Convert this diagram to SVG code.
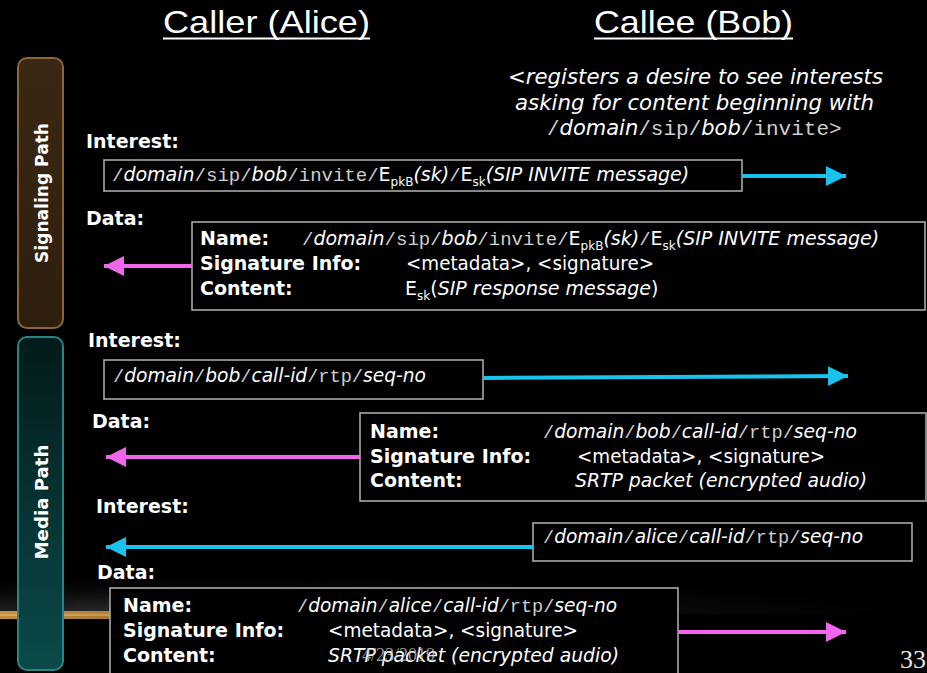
<svg xmlns="http://www.w3.org/2000/svg" width="927" height="673" viewBox="0 0 927 673">
<defs>
<style>
.lbl{font-family:"DejaVu Sans",Verdana,sans-serif;font-weight:bold;font-size:19px;fill:#fff}
.v{font-family:"DejaVu Sans",Verdana,sans-serif;font-size:19px;fill:#fff}
.it{font-style:italic}
.mo{font-family:"Liberation Mono","Courier New",monospace;font-style:normal;fill:#cfcfcf}
.sub{font-size:12px}
.box{fill:#000;stroke:#a8a8a8;stroke-width:1.6}
.title{font-family:"Liberation Sans",Tahoma,sans-serif;font-size:32px;fill:#fff}
.side{font-family:"DejaVu Sans",Verdana,sans-serif;font-weight:bold;font-size:17.5px;fill:#fff}
.cy{stroke:#19c3ee;stroke-width:4;fill:none}
.mg{stroke:#f066ec;stroke-width:4;fill:none}
</style>
<marker id="ac" markerUnits="userSpaceOnUse" markerWidth="22" markerHeight="22" refX="20" refY="10" orient="auto" viewBox="0 0 22 20"><polygon points="0,0 20,10 0,20" fill="#19c3ee"/></marker>
<marker id="am" markerUnits="userSpaceOnUse" markerWidth="22" markerHeight="22" refX="20" refY="10" orient="auto" viewBox="0 0 22 20"><polygon points="0,0 20,10 0,20" fill="#f066ec"/></marker>
<linearGradient id="brown" x1="0" y1="0" x2="0" y2="1"><stop offset="0" stop-color="#3a2814"/><stop offset="1" stop-color="#2e1e0e"/></linearGradient>
<linearGradient id="teal" x1="0" y1="0" x2="0" y2="1"><stop offset="0" stop-color="#031a1a"/><stop offset="1" stop-color="#0b4a4a"/></linearGradient>
<radialGradient id="haze" cx="0.25" cy="1" r="0.8" gradientTransform="translate(0.25 1) scale(1 0.35) translate(-0.25 -1)"><stop offset="0" stop-color="#3c3c3c"/><stop offset="1" stop-color="#000" stop-opacity="0"/></radialGradient>
<linearGradient id="gold" x1="0" y1="0" x2="1" y2="0"><stop offset="0" stop-color="#e0a850"/><stop offset="0.35" stop-color="#c08a40" stop-opacity="0.8"/><stop offset="0.8" stop-color="#604020" stop-opacity="0"/></linearGradient>
</defs>
<rect width="927" height="673" fill="#000"/>
<rect x="0" y="470" width="927" height="144" fill="url(#haze)"/>
<rect x="0" y="611" width="760" height="8" fill="url(#gold)" opacity="0.85"/>
<rect x="0" y="614" width="700" height="2" fill="url(#gold)"/>

<g id="titles">
<text class="title" x="163" y="33" textLength="207" lengthAdjust="spacingAndGlyphs">Caller (Alice)</text>
<line x1="163" y1="38.5" x2="370" y2="38.5" stroke="#fff" stroke-width="2"/>
<text class="title" x="594" y="33" textLength="199" lengthAdjust="spacingAndGlyphs">Callee (Bob)</text>
<line x1="594" y1="38.5" x2="793" y2="38.5" stroke="#fff" stroke-width="2"/>
</g>

<g id="signaling-path">
<rect x="18" y="58" width="45" height="270" rx="9" fill="url(#brown)" stroke="#8a6638" stroke-width="2"/>
<text class="side" transform="translate(48 193) rotate(-90)" text-anchor="middle" textLength="140" lengthAdjust="spacingAndGlyphs">Signaling Path</text>
</g>
<g id="media-path">
<rect x="18" y="337" width="45" height="333" rx="9" fill="url(#teal)" stroke="#2a8484" stroke-width="2"/>
<text class="side" transform="translate(48 502) rotate(-90)" text-anchor="middle" textLength="115" lengthAdjust="spacingAndGlyphs">Media Path</text>
</g>

<g id="registration-note">
<text class="v it" style="font-size:21px" x="508" y="84" textLength="375" lengthAdjust="spacingAndGlyphs">&lt;registers a desire to see interests</text>
<text class="v it" style="font-size:21px" x="515" y="110" textLength="359" lengthAdjust="spacingAndGlyphs">asking for content beginning with</text>
<text class="v" style="font-size:21px" x="547" y="135"><tspan class="mo">/</tspan><tspan class="it">domain</tspan><tspan class="mo">/sip/</tspan><tspan class="it">bob</tspan><tspan class="mo">/invite&gt;</tspan></text>
</g>

<g id="interest-1">
<text class="lbl" x="86" y="148">Interest:</text>
<rect class="box" x="104" y="160" width="638" height="31"/>
<text class="v" x="112" y="181"><tspan class="mo">/</tspan><tspan class="it">domain</tspan><tspan class="mo">/sip/</tspan><tspan class="it">bob</tspan><tspan class="mo">/invite/</tspan>E<tspan class="sub" dy="5">pkB</tspan><tspan class="it" dy="-5">(sk)</tspan><tspan class="mo">/</tspan>E<tspan class="sub" dy="5">sk</tspan><tspan class="it" dy="-5">(SIP INVITE message)</tspan></text>
</g>

<g id="data-1">
<text class="lbl" x="86" y="225">Data:</text>
<rect class="box" x="192" y="222" width="733" height="88"/>
<text class="lbl" x="200" y="245">Name:</text>
<text class="lbl" x="200" y="270">Signature Info:</text>
<text class="lbl" x="200" y="295">Content:</text>
<text class="v" x="302" y="245"><tspan class="mo">/</tspan><tspan class="it">domain</tspan><tspan class="mo">/sip/</tspan><tspan class="it">bob</tspan><tspan class="mo">/invite/</tspan>E<tspan class="sub" dy="5">pkB</tspan><tspan class="it" dy="-5">(sk)</tspan><tspan class="mo">/</tspan>E<tspan class="sub" dy="5">sk</tspan><tspan class="it" dy="-5">(SIP INVITE message)</tspan></text>
<text class="v" x="406" y="270" textLength="248" lengthAdjust="spacingAndGlyphs">&lt;metadata&gt;, &lt;signature&gt;</text>
<text class="v" x="405" y="295">E<tspan class="sub" dy="5">sk</tspan><tspan dy="-5">(</tspan><tspan class="it">SIP response message</tspan>)</text>
</g>

<g id="interest-2">
<text class="lbl" x="88" y="347">Interest:</text>
<rect class="box" x="104" y="360" width="379" height="39"/>
<text class="v" x="113" y="382" textLength="313" lengthAdjust="spacingAndGlyphs"><tspan class="mo">/</tspan><tspan class="it">domain</tspan><tspan class="mo">/</tspan><tspan class="it">bob</tspan><tspan class="mo">/</tspan><tspan class="it">call-id</tspan><tspan class="mo">/rtp/</tspan><tspan class="it">seq-no</tspan></text>
</g>

<g id="data-2">
<text class="lbl" x="92" y="428">Data:</text>
<rect class="box" x="360" y="413" width="566" height="88"/>
<text class="lbl" x="370" y="438">Name:</text>
<text class="lbl" x="370" y="463">Signature Info:</text>
<text class="lbl" x="370" y="487">Content:</text>
<text class="v" x="543" y="438" textLength="314" lengthAdjust="spacingAndGlyphs"><tspan class="mo">/</tspan><tspan class="it">domain</tspan><tspan class="mo">/</tspan><tspan class="it">bob</tspan><tspan class="mo">/</tspan><tspan class="it">call-id</tspan><tspan class="mo">/rtp/</tspan><tspan class="it">seq-no</tspan></text>
<text class="v" x="577" y="463" textLength="248" lengthAdjust="spacingAndGlyphs">&lt;metadata&gt;, &lt;signature&gt;</text>
<text class="v it" x="575" y="487" textLength="292" lengthAdjust="spacingAndGlyphs">SRTP packet (encrypted audio)</text>
</g>

<g id="interest-3">
<text class="lbl" x="96" y="513">Interest:</text>
<rect class="box" x="533" y="523" width="379" height="38"/>
<text class="v" x="543" y="543" textLength="320" lengthAdjust="spacingAndGlyphs"><tspan class="mo">/</tspan><tspan class="it">domain</tspan><tspan class="mo">/</tspan><tspan class="it">alice</tspan><tspan class="mo">/</tspan><tspan class="it">call-id</tspan><tspan class="mo">/rtp/</tspan><tspan class="it">seq-no</tspan></text>
</g>

<g id="data-3">
<text class="lbl" x="97" y="579">Data:</text>
<rect class="box" x="110" y="588" width="568" height="95"/>
<text class="lbl" x="123" y="612">Name:</text>
<text class="lbl" x="123" y="637">Signature Info:</text>
<text class="lbl" x="123" y="662">Content:</text>
<text class="v" x="297" y="612" textLength="320" lengthAdjust="spacingAndGlyphs"><tspan class="mo">/</tspan><tspan class="it">domain</tspan><tspan class="mo">/</tspan><tspan class="it">alice</tspan><tspan class="mo">/</tspan><tspan class="it">call-id</tspan><tspan class="mo">/rtp/</tspan><tspan class="it">seq-no</tspan></text>
<text class="v" x="328" y="637" textLength="250" lengthAdjust="spacingAndGlyphs">&lt;metadata&gt;, &lt;signature&gt;</text>
<text class="v it" x="328" y="662" textLength="291" lengthAdjust="spacingAndGlyphs">SRTP packet (encrypted audio)</text>
</g>

<g id="connectors">
<line class="cy" x1="742" y1="176" x2="846" y2="176" marker-end="url(#ac)"/>
<line class="mg" x1="192" y1="266" x2="104" y2="266" marker-end="url(#am)"/>
<line class="cy" x1="483" y1="378" x2="848" y2="376" marker-end="url(#ac)"/>
<line class="mg" x1="360" y1="457" x2="106" y2="457" marker-end="url(#am)"/>
<line class="cy" x1="533" y1="547" x2="106" y2="547" marker-end="url(#ac)"/>
<line class="mg" x1="678" y1="632" x2="846" y2="632" marker-end="url(#am)"/>
</g>

<g id="footer">
<text x="362" y="661" font-family="Liberation Serif,serif" font-size="18" fill="#c8c8c8" opacity="0.75">4/23/2019</text>
<text x="900" y="668" font-family="Liberation Serif,serif" font-size="26" fill="#e6e6e6">33</text>
</g>
</svg>
